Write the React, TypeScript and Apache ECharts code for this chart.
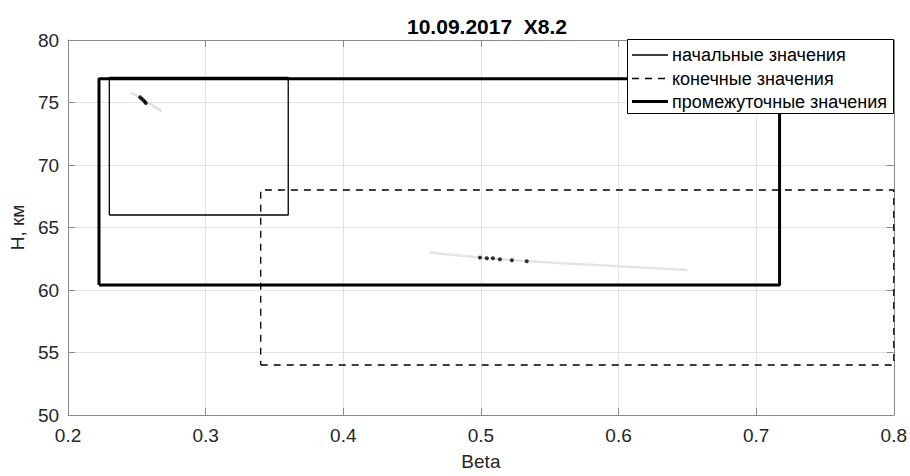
import React, { useEffect, useRef } from "react";
import * as echarts from "echarts";

const titleText = "10.09.2017  X8.2";

// rectangles: [betaMin, betaMax, hMin, hMax]
const initialBox = [0.23, 0.36, 66, 77];
const finalBox = [0.34, 0.8, 54, 68];
const interBox = [0.2225, 0.717, 60.4, 76.9];

const legendNames = ["начальные значения", "конечные значения", "промежуточные значения"];

// light grey point clouds
const cloudSmall = [
  [0.2457, 75.77],
  [0.252, 75.4],
  [0.258, 75.0],
  [0.2679, 74.31],
];
const cloudLarge = [
  [0.463, 63.0],
  [0.5, 62.6],
  [0.55, 62.2],
  [0.6, 61.9],
  [0.65, 61.6],
];
// dark points
const darkSmall = [
  [0.2524, 75.42],
  [0.2535, 75.3],
  [0.2548, 75.17],
  [0.2558, 75.05],
  [0.2565, 74.95],
];
const darkLarge = [
  [0.4993, 62.59],
  [0.5043, 62.54],
  [0.5087, 62.54],
  [0.5138, 62.46],
  [0.5225, 62.38],
  [0.5333, 62.3],
];

const boxPoints = (b: number[]) => [
  [b[0], b[2]],
  [b[1], b[2]],
  [b[1], b[3]],
  [b[0], b[3]],
  [b[0], b[2]],
];

const FONT = "'Liberation Sans', Arial, Helvetica, sans-serif";
const AXIS_COLOR = "#8a8a8a";
const TEXT_COLOR = "#262626";
const DASH = [7, 6];

const legendStyles = [
  { lineWidth: 1.3, lineDash: null as number[] | null },
  { lineWidth: 1.3, lineDash: DASH },
  { lineWidth: 3, lineDash: null as number[] | null },
];

export default function App() {
  const ref = useRef<HTMLDivElement>(null);
  useEffect(() => {
    if (!ref.current) return;
    const chart = echarts.init(ref.current, null, { renderer: "svg" });
    const grid = { left: 67, right: 15, top: 40, bottom: 58 };
    const tickCommon = {
      show: true,
      inside: true,
      length: 7,
      lineStyle: { color: AXIS_COLOR, width: 1 },
    };
    const legendX = 627;
    const legendY = 39;
    const rowY = [55, 78.5, 101.5];
    const legendGraphic: any[] = [
      {
        type: "rect",
        shape: { x: legendX + 0.5, y: legendY + 0.5, width: 266, height: 74 },
        style: { fill: "#fff", stroke: "#000", lineWidth: 1 },
        z: 100,
      },
    ];
    legendNames.forEach((name, i) => {
      legendGraphic.push({
        type: "line",
        shape: { x1: 632, y1: rowY[i], x2: 668, y2: rowY[i] },
        style: {
          stroke: "#000",
          lineWidth: legendStyles[i].lineWidth,
          lineDash: legendStyles[i].lineDash || undefined,
        },
        z: 101,
      });
      legendGraphic.push({
        type: "text",
        x: 672,
        y: rowY[i],
        style: {
          text: name,
          fontFamily: FONT,
          fontSize: 18,
          fill: "#000",
          verticalAlign: "middle",
          align: "left",
        },
        z: 101,
      });
    });
    chart.setOption({
      animation: false,
      backgroundColor: "#fff",
      textStyle: { fontFamily: FONT },
      title: {
        text: titleText,
        left: 482,
        top: 11,
        textAlign: "center",
        textStyle: { fontFamily: FONT, fontSize: 21, fontWeight: "bold", color: "#000" },
      },
      grid,
      graphic: legendGraphic,
      xAxis: [
        {
          type: "value",
          min: 0.2,
          max: 0.8,
          interval: 0.1,
          name: "Beta",
          nameLocation: "middle",
          nameGap: 37,
          nameTextStyle: { fontFamily: FONT, fontSize: 19, color: TEXT_COLOR },
          axisLine: { show: true, onZero: false, lineStyle: { color: AXIS_COLOR, width: 1 } },
          axisTick: tickCommon,
          axisLabel: {
            fontFamily: FONT,
            fontSize: 19,
            color: TEXT_COLOR,
            margin: 11,
            formatter: (v: number) => v.toFixed(1),
          },
          splitLine: { show: true, lineStyle: { color: "#e2e2e2", width: 1 } },
        },
        {
          type: "value",
          position: "top",
          min: 0.2,
          max: 0.8,
          interval: 0.1,
          axisLine: { show: true, onZero: false, lineStyle: { color: AXIS_COLOR, width: 1 } },
          axisTick: tickCommon,
          axisLabel: { show: false },
          splitLine: { show: false },
        },
      ],
      yAxis: [
        {
          type: "value",
          min: 50,
          max: 80,
          interval: 5,
          name: "H, км",
          nameLocation: "middle",
          nameGap: 40,
          nameTextStyle: { fontFamily: FONT, fontSize: 19, color: TEXT_COLOR },
          axisLine: { show: true, onZero: false, lineStyle: { color: AXIS_COLOR, width: 1 } },
          axisTick: tickCommon,
          axisLabel: { fontFamily: FONT, fontSize: 19, color: TEXT_COLOR, margin: 9 },
          splitLine: { show: true, lineStyle: { color: "#e2e2e2", width: 1 } },
        },
        {
          type: "value",
          position: "right",
          min: 50,
          max: 80,
          interval: 5,
          axisLine: { show: true, onZero: false, lineStyle: { color: AXIS_COLOR, width: 1 } },
          axisTick: tickCommon,
          axisLabel: { show: false },
          splitLine: { show: false },
        },
      ],
      series: [
        {
          type: "line",
          data: cloudSmall,
          symbol: "none",
          lineStyle: { color: "#e0e0e0", width: 2.5 },
          silent: true,
          z: 1,
        },
        {
          type: "line",
          data: cloudLarge,
          symbol: "none",
          smooth: true,
          lineStyle: { color: "#e4e4e4", width: 2.5 },
          silent: true,
          z: 1,
        },
        {
          type: "scatter",
          data: darkSmall,
          symbol: "circle",
          symbolSize: 4,
          itemStyle: { color: "#000" },
          z: 2,
        },
        {
          type: "scatter",
          data: darkLarge,
          symbol: "circle",
          symbolSize: 4,
          itemStyle: { color: "#000" },
          z: 2,
        },
        {
          name: legendNames[0],
          type: "line",
          data: boxPoints(initialBox),
          symbol: "none",
          color: "#000",
          lineStyle: { color: "#000", width: 1.3 },
          z: 3,
        },
        {
          name: legendNames[1],
          type: "line",
          data: boxPoints(finalBox),
          symbol: "none",
          color: "#000",
          lineStyle: { color: "#000", width: 1.3, type: DASH },
          z: 3,
        },
        {
          name: legendNames[2],
          type: "line",
          data: boxPoints(interBox),
          symbol: "none",
          color: "#000",
          lineStyle: { color: "#000", width: 3 },
          z: 3,
        },
      ],
    });
    return () => chart.dispose();
  }, []);
  return <div ref={ref} style={{ width: 910, height: 476, position: "absolute", left: 0, top: 0 }} />;
}
